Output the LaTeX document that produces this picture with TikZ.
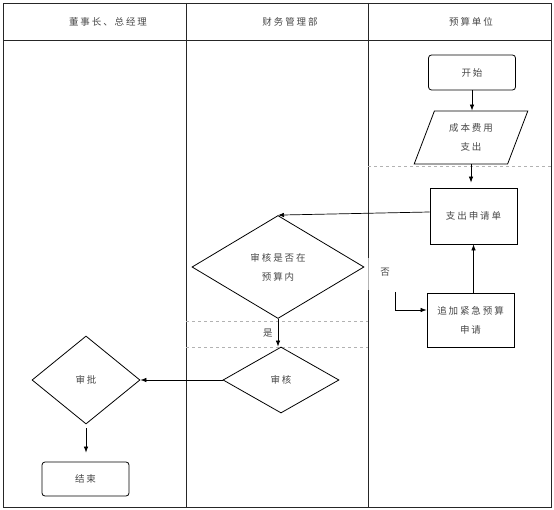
\documentclass[tikz,border=0pt]{standalone}
\usepackage{fontspec}
\newfontfamily\cjk[LetterSpace=20]{Noto Sans CJK SC}
\usetikzlibrary{arrows.meta}
\usetikzlibrary{calc,shapes.geometric}
\colorlet{textcol}{black!72}
\colorlet{framecol}{black!85}
\colorlet{sepcol}{black!30}
\tikzset{>={Latex[length=6pt,width=4.5pt]}}
\tikzset{
  box/.style={draw,line width=0.8pt,inner sep=0pt,minimum width=87pt,
              minimum height=55pt,align=center,text=textcol},
  terminal/.style={box,rounded corners=3pt,minimum height=35pt},
  iobox/.style={box,trapezium,trapezium left angle=66.5,
                trapezium right angle=113.5,trapezium stretches=true,
                minimum width=114pt,minimum height=53pt},
  decision/.style={box,diamond},
  flow/.style={->,line width=0.7pt},
  lane/.style={framecol,line width=0.8pt},
  sep/.style={sepcol,dashed,line width=0.5pt},
  tag/.style={text=textcol,inner sep=1pt},
}

\begin{document}
\begin{tikzpicture}[x=1pt,y=-1pt,font=\cjk\fontsize{9.5}{19}\selectfont]
  \def\L{3}                     % left edge
  \def\R{551}                   % right edge
  \def\T{3}                     % top edge
  \def\B{507}                   % bottom edge
  \def\H{40}                    % header line
  \def\ca{186}                  % first divider
  \def\cb{368}                  % second divider
  \useasboundingbox (0,0) rectangle (554,510);

  % LANES
  \draw[lane] (\L,\T) rectangle (\R,\B);
  \draw[lane] (\L,\H) -- (\R,\H);
  \draw[lane] (\ca,\T) -- (\ca,\B);
  \draw[lane] (\cb,\T) -- (\cb,258);
  \draw[lane] (\cb,290) -- (\cb,\B);
  \draw[sepcol,line width=0.8pt] (\cb,258) -- (\cb,290);
  \draw[sep] (\cb,166) -- (\R,166);
  \draw[sep] (\ca,321) -- (\cb,321);
  \draw[sep] (\ca,347) -- (\cb,347);

  % HEADERS
  \node[tag] (hboard)  at (108,22) {董事长、总经理};
  \node[tag] (hfin)    at (290,22) {财务管理部};
  \node[tag] (hunit)   at (471,22) {预算单位};

  % NODES
  \node[terminal]                         (start)   at (472,72.5) {开始};
  \node[iobox]                            (cost)    at (471,137.5) {成本费用\\支出};
  \node[box,minimum height=56pt]          (apply)   at (473.5,216) {支出申请单};
  \node[decision,minimum width=172pt,minimum height=103pt]
                                          (check)   at (278,267) {审核是否在\\预算内};
  \node[box,minimum height=54pt]          (extra)   at (470.5,320) {追加紧急预算\\申请};
  \node[decision,minimum width=116pt,minimum height=66pt]
                                          (review)  at (281,380) {审核};
  \node[decision,minimum width=108pt,minimum height=88pt]
                                          (approve) at (86,380) {审批};
  \node[terminal,minimum height=34pt]     (finish)  at (85.5,479) {结束};
  \node[tag]                              (no)      at (385,272) {否};
  \coordinate (nostart) at (395,292);

  % LINES
  \draw[flow] (start.south) -- (start.south |- cost.north);
  \draw[flow,shorten >=5pt] (cost.south) -- (cost.south |- apply.north);
  \draw[flow] ([yshift=4pt]apply.west) -- (check.north);
  \draw[flow] (nostart) |- ([yshift=10pt]extra.west);
  \draw[flow] (apply.south |- extra.north) -- (apply.south);
  \draw[flow] (check.south) -- (check.south |- review.north)
    node[tag,midway,left=4pt] {是};
  \draw[flow] (review.west) -- (approve.east);
  \draw[flow,shorten <=4pt,shorten >=9pt] (approve.south) -- (approve.south |- finish.north);

\end{tikzpicture}
\end{document}
